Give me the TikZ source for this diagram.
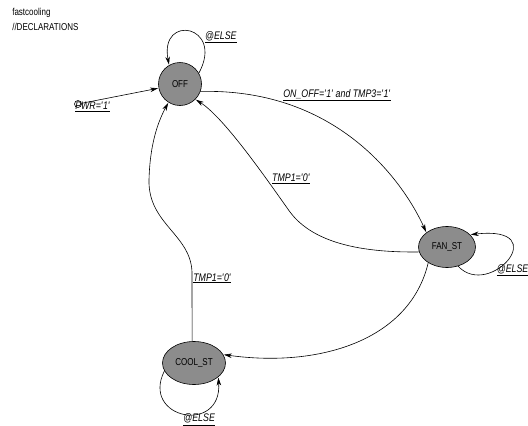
\documentclass[tikz,border=0pt]{standalone}
\usepackage{fontspec}
\setmainfont{Liberation Sans}
\newfontfamily\narrowsf[FakeStretch=0.8]{Liberation Sans}
\usetikzlibrary{arrows.meta,automata,shapes.geometric}
\definecolor{stategray}{RGB}{140,140,140}
\newcommand{\sq}{\textquotesingle}

\begin{document}
\begin{tikzpicture}[x=1pt,y=1pt,line width=0.6pt,shorten >=0.5pt,
    >={Stealth[length=8pt,width=4.5pt,inset=2.5pt]},
    every state/.style={draw,fill=stategray,inner sep=0pt,font=\narrowsf\fontsize{10}{11}\selectfont},
    wide/.style={ellipse,minimum width=57pt,minimum height=41pt},
    lbl/.style={font=\narrowsf\fontsize{11}{12}\selectfont\itshape,inner sep=1pt},
    hdr/.style={font=\narrowsf\fontsize{10}{11}\selectfont,inner sep=0pt}]
    \useasboundingbox (0,0) rectangle (528,-426);
    \clip (0,0) rectangle (528,-426);

    \node[hdr,anchor=west] (title) at (12,-13) {fastcooling};
    \node[hdr,anchor=west] (decl) at (12,-27) {//DECLARATIONS};

    \node[state,minimum size=43pt] (off) at (180,-84) {OFF};
    \node[state,wide] (fan) at (447,-247) {FAN\_ST};
    \node[state,wide,minimum width=63pt,minimum height=43pt] (cool) at (194,-363) {COOL\_ST};

    % reset
    \node[lbl,anchor=west] (pwr) at (74,-107) {\underline{PWR=\sq1\sq}};
    \node[draw,circle,inner sep=0pt,minimum size=7pt] (rst) at (78,-104) {};
    \draw[->] (rst) -- (off);

    % transitions
    \draw[->] (off.30) .. controls +(26,48) and +(-10,52) .. (off.120)
        node[lbl,pos=0.25,anchor=south west] (else0) {\underline{@ELSE}};
    \draw[->] (off.-20) .. controls (340,-88) and (405,-185) .. (fan.145)
        node[lbl,pos=0.22,anchor=south west] (on) {\underline{ON\_OFF=\sq1\sq{} and TMP3=\sq1\sq}};
    \draw[->] (fan.190) .. controls (345,-253) and (308,-236) .. (290,-212)
        .. controls (270,-184) and (225,-118) .. (off.-45)
        node[lbl,pos=0.25,anchor=south west] (tmpa) {\underline{TMP1=\sq0\sq}};
    \draw[->] (fan.-140) .. controls (410,-340) and (320,-368) .. (cool.16);
    \draw[->] (cool.95) -- (192,-275)
        node[lbl,pos=0.95,anchor=west] (tmpb) {\underline{TMP1=\sq0\sq}}
        .. controls (193,-235) and (148,-225) .. (149,-180)
        .. controls (150,-140) and (160,-118) .. (off.-122);
    \draw[->] (fan.-60) .. controls (490,-300) and (555,-225) .. (fan.28)
        node[lbl,pos=0.45,anchor=north west,xshift=-9pt] (else1) {\underline{@ELSE}};
    \draw[->] (cool.-165) .. controls +(-24,-48) and +(4,-58) .. (cool.-30)
        node[lbl,pos=0.65,anchor=north] (else2) {\underline{@ELSE}};
\end{tikzpicture}
\end{document}
